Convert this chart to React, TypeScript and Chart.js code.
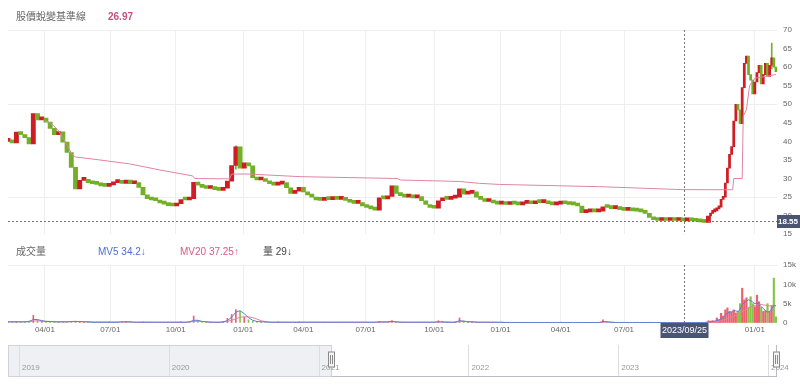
import React, { useEffect, useRef } from "react";
import { Chart, registerables } from "chart.js";

Chart.register(...registerables);

const FONT = "'Liberation Sans', Arial, 'Noto Sans CJK TC', sans-serif";

// ---------------- data ----------------
// price: close sampled every 4 trading days from day 0, then every 2 trading days from day 666
const stepA = 4;
const startB = 666;
const stepB = 2;
const lastDay = 729;

const closeA = [
  40.0, 39.6, 42.5, 41.8, 41.0, 39.3, 47.5, 45.8, 46.3, 45.2,
  43.5, 41.8, 42.6, 39.8, 37.0, 33.0, 27.2, 29.5, 29.8, 28.9,
  28.6, 28.4, 28.0, 27.9, 28.3, 28.9, 29.2, 28.7, 29.6, 28.6,
  28.9, 27.6, 25.6, 24.6, 24.2, 24.0, 23.4, 23.1, 22.7, 22.6,
  23.2, 24.3, 24.2, 24.6, 29.0, 28.2, 27.6, 27.3, 27.5, 27.0,
  26.8, 27.4, 29.3, 33.5, 38.5, 32.8, 34.2, 33.4, 30.2, 29.6,
  29.8, 29.2, 28.6, 28.2, 28.5, 28.9, 27.5, 26.0, 26.6, 27.6,
  26.4, 25.6, 25.0, 24.2, 24.1, 24.5, 24.3, 24.7, 24.4, 24.6,
  24.1, 23.6, 23.3, 23.5, 22.6, 22.2, 21.8, 21.5, 24.8, 24.5,
  25.2, 28.0, 26.0, 25.4, 25.0, 25.3, 24.8, 25.1, 24.0, 23.0,
  22.2, 22.0, 24.0, 24.6, 24.4, 24.7, 25.0, 27.2, 25.8, 26.0,
  26.4, 25.0, 24.4, 23.8, 24.2, 23.4, 23.1, 23.2, 23.0, 23.4,
  23.1, 22.9, 23.3, 23.4, 23.2, 23.7, 23.5, 23.6, 23.2, 22.9,
  23.1, 23.8, 23.2, 23.0, 22.9, 22.6, 20.8, 21.0, 21.1, 21.0,
  21.2, 22.4, 22.2, 21.9, 22.0, 21.6, 21.4, 21.5, 21.3, 21.2,
  21.0, 20.6, 19.5, 18.9, 18.7, 18.8, 18.7, 18.8, 18.7, 18.7,
  18.6, 18.7, 18.6, 18.5, 18.3, 18.2, 19.9,
];

const closeB = [
  20.6, 21.0, 21.3, 21.8, 22.3, 24.4, 25.0, 28.8, 32.8, 36.5,
  38.6, 45.5, 50.0, 48.5, 44.8, 54.5, 61.0, 63.0, 58.0, 56.5,
  52.8, 56.0, 58.5, 60.5, 55.5, 58.0, 61.0, 57.5, 60.5, 62.5,
  60.0, 58.8,
];

const wickIdx = [216, 724];
const wickLow = [32.5, 59.5];
const wickHigh = [38.8, 66.5];

// 股價蛻變基準線
const baseIdx = [35, 40, 47, 52, 57, 61, 64, 87, 116, 144, 175, 177, 210, 212, 229, 277, 369, 372, 428, 447, 466, 561, 640, 687, 688, 696, 697, 700, 703, 708, 718, 728];
const baseVal = [45.5, 45.0, 43.2, 41.0, 38.5, 36.3, 35.8, 35.0, 33.9, 32.3, 30.7, 30.0, 29.9, 31.2, 31.2, 30.5, 30.0, 29.6, 29.2, 28.7, 28.4, 27.8, 27.0, 26.97, 30.0, 30.0, 46.8, 48.5, 55.0, 57.0, 57.5, 58.0];

// volume (thousands), same sampling as price
const volA = [
  0.3, 0.3, 0.4, 0.3, 0.3, 0.5, 2.0, 0.8, 0.5, 0.4,
  0.4, 0.3, 0.3, 0.4, 0.3, 0.4, 0.5, 0.4, 0.3, 0.3,
  0.2, 0.2, 0.2, 0.2, 0.3, 0.2, 0.2, 0.3, 0.4, 0.3,
  0.2, 0.2, 0.3, 0.2, 0.2, 0.2, 0.2, 0.2, 0.2, 0.2,
  0.2, 0.3, 0.2, 0.3, 1.8, 0.6, 0.3, 0.3, 0.2, 0.2,
  0.2, 0.3, 1.2, 2.2, 3.5, 3.0, 1.5, 0.8, 0.5, 0.4,
  0.3, 0.3, 0.2, 0.2, 0.3, 0.2, 0.2, 0.2, 0.2, 0.3,
  0.2, 0.2, 0.2, 0.2, 0.2, 0.2, 0.2, 0.2, 0.2, 0.2,
  0.2, 0.2, 0.2, 0.2, 0.2, 0.2, 0.2, 0.2, 0.4, 0.3,
  0.3, 0.6, 0.3, 0.2, 0.2, 0.2, 0.2, 0.2, 0.2, 0.2,
  0.2, 0.2, 0.6, 0.3, 0.2, 0.2, 0.3, 1.3, 0.5, 0.3,
  0.3, 0.2, 0.2, 0.2, 0.2, 0.2, 0.2, 0.2, 0.1, 0.1,
  0.1, 0.1, 0.1, 0.1, 0.1, 0.1, 0.1, 0.1, 0.1, 0.1,
  0.1, 0.2, 0.1, 0.1, 0.1, 0.1, 0.2, 0.1, 0.1, 0.1,
  0.1, 0.8, 0.3, 0.2, 0.1, 0.1, 0.1, 0.1, 0.1, 0.1,
  0.1, 0.1, 0.2, 0.1, 0.1, 0.1, 0.1, 0.1, 0.1, 0.1,
  0.1, 0.1, 0.1, 0.1, 0.1, 0.1, 0.6,
];
const mv5A = [
  0.3, 0.3, 0.3, 0.3, 0.3, 0.4, 0.9, 0.9, 0.6, 0.4,
  0.4, 0.3, 0.3, 0.3, 0.3, 0.4, 0.4, 0.4, 0.3, 0.3,
  0.2, 0.2, 0.2, 0.2, 0.2, 0.2, 0.2, 0.3, 0.3, 0.3,
  0.2, 0.2, 0.2, 0.2, 0.2, 0.2, 0.2, 0.2, 0.2, 0.2,
  0.2, 0.2, 0.2, 0.3, 0.7, 0.7, 0.4, 0.3, 0.2, 0.2,
  0.2, 0.3, 0.6, 1.5, 2.8, 3.2, 2.4, 1.4, 0.7, 0.4,
  0.3, 0.3, 0.2, 0.2, 0.2, 0.2, 0.2, 0.2, 0.2, 0.2,
  0.2, 0.2, 0.2, 0.2, 0.2, 0.2, 0.2, 0.2, 0.2, 0.2,
  0.2, 0.2, 0.2, 0.2, 0.2, 0.2, 0.2, 0.2, 0.3, 0.3,
  0.3, 0.4, 0.3, 0.2, 0.2, 0.2, 0.2, 0.2, 0.2, 0.2,
  0.2, 0.2, 0.3, 0.3, 0.2, 0.2, 0.2, 0.6, 0.5, 0.3,
  0.3, 0.2, 0.2, 0.2, 0.2, 0.2, 0.2, 0.2, 0.1, 0.1,
  0.1, 0.1, 0.1, 0.1, 0.1, 0.1, 0.1, 0.1, 0.1, 0.1,
  0.1, 0.1, 0.1, 0.1, 0.1, 0.1, 0.1, 0.1, 0.1, 0.1,
  0.1, 0.4, 0.3, 0.2, 0.1, 0.1, 0.1, 0.1, 0.1, 0.1,
  0.1, 0.1, 0.1, 0.1, 0.1, 0.1, 0.1, 0.1, 0.1, 0.1,
  0.1, 0.1, 0.1, 0.1, 0.1, 0.1, 0.3,
];
const mv20A = [
  0.3, 0.3, 0.3, 0.3, 0.3, 0.35, 0.5, 0.55, 0.5, 0.45,
  0.4, 0.35, 0.3, 0.3, 0.3, 0.35, 0.35, 0.35, 0.3, 0.3,
  0.25, 0.25, 0.25, 0.25, 0.25, 0.25, 0.25, 0.25, 0.25, 0.25,
  0.2, 0.2, 0.2, 0.2, 0.2, 0.2, 0.2, 0.2, 0.2, 0.2,
  0.2, 0.2, 0.2, 0.25, 0.4, 0.45, 0.4, 0.3, 0.25, 0.2,
  0.2, 0.25, 0.4, 0.7, 1.1, 1.5, 1.6, 1.6, 1.4, 1.0,
  0.6, 0.35, 0.25, 0.2, 0.2, 0.2, 0.2, 0.2, 0.2, 0.2,
  0.2, 0.2, 0.2, 0.2, 0.2, 0.2, 0.2, 0.2, 0.2, 0.2,
  0.2, 0.2, 0.2, 0.2, 0.2, 0.2, 0.2, 0.2, 0.2, 0.2,
  0.25, 0.3, 0.3, 0.25, 0.2, 0.2, 0.2, 0.2, 0.2, 0.2,
  0.2, 0.2, 0.25, 0.25, 0.25, 0.2, 0.2, 0.35, 0.4, 0.35,
  0.3, 0.25, 0.2, 0.2, 0.2, 0.2, 0.15, 0.15, 0.15, 0.15,
  0.1, 0.1, 0.1, 0.1, 0.1, 0.1, 0.1, 0.1, 0.1, 0.1,
  0.1, 0.1, 0.1, 0.1, 0.1, 0.1, 0.1, 0.1, 0.1, 0.1,
  0.1, 0.2, 0.25, 0.2, 0.15, 0.1, 0.1, 0.1, 0.1, 0.1,
  0.1, 0.1, 0.1, 0.1, 0.1, 0.1, 0.1, 0.1, 0.1, 0.1,
  0.1, 0.1, 0.1, 0.1, 0.1, 0.1, 0.15,
];
const volB = [
  0.5, 0.6, 0.4, 1.3, 0.8, 2.5, 1.8, 3.4, 3.9, 3.0,
  2.8, 3.4, 2.6, 3.0, 5.0, 9.0, 6.0, 6.5, 4.0, 6.8,
  5.0, 4.2, 7.2, 5.5, 4.0, 3.0, 3.2, 5.0, 3.0, 4.5,
  11.6, 1.6,
];
const mv5B = [
  0.3, 0.4, 0.5, 0.7, 0.8, 1.2, 1.4, 2.0, 2.6, 2.8,
  2.9, 3.2, 3.1, 3.0, 3.5, 4.8, 5.2, 5.6, 6.0, 5.8,
  5.4, 5.0, 5.2, 4.8, 4.2, 3.8, 3.2, 2.8, 3.0, 3.6,
  4.6, 4.4,
];
const mv20B = [
  0.2, 0.25, 0.3, 0.35, 0.4, 0.6, 0.7, 0.9, 1.1, 1.3,
  1.5, 1.8, 2.0, 2.2, 2.5, 3.0, 3.3, 3.6, 3.9, 4.2,
  4.4, 4.5, 4.7, 4.8, 4.8, 4.7, 4.6, 4.5, 4.4, 4.5,
  4.6, 4.5,
];

// axis ticks (trading-day index of each quarter start)
const tickIdx = [35, 97, 159, 223, 280, 339, 404, 467, 524, 584, 708];
const tickLabels = ["04/01", "07/01", "10/01", "01/01", "04/01", "07/01", "10/01", "01/01", "04/01", "07/01", "01/01"];

const crossIdx = 641;
const crossDate = "2023/09/25";
const crossPrice = 18.55;
const baseNow = "26.97";
const mv5Now = "34.2";
const mv20Now = "37.25";
const volNow = "29";

const navYears = [2019, 2020, 2021, 2022, 2023, 2024];
const navMin = 2018.927;
const navMax = 2024.06;
const navFrom = 2021.083;
const navTo = 2024.06;

// ---------------- styles ----------------
const RED = "#d21c25";
const GREEN = "#72b02a";
const VRED = "#f0606c";
const VGREEN = "#86c44a";
const PINK = "#e083a4";
const BLUE = "#5b7fd8";
const GRID = "#eeeeee";
const AXIS = "#666";

const idxA = closeA.map((_, i) => i * stepA);
const idxB = closeB.map((_, j) => startB + j * stepB);
const openA = closeA.map((c, i) => (i === 0 ? c : closeA[i - 1]));
const openB = closeB.map((c, j) => (j === 0 ? closeA[closeA.length - 1] : closeB[j - 1]));

const candleColor = (c: any) => {
  const r = c.raw;
  if (!r || !Array.isArray(r.y)) return GREEN;
  return r.y[1] >= r.y[0] ? RED : GREEN;
};
const volColor = (c: any) => (c.raw && c.raw.up ? VRED : VGREEN);

const xScaleBase = (showLabels: boolean, height: number): any => ({
  type: "linear",
  min: 0,
  max: lastDay,
  offset: false,
  afterBuildTicks: (s: any) => {
    s.ticks = tickIdx.map((v) => ({ value: v }));
  },
  ticks: {
    display: showLabels,
    color: AXIS,
    font: { size: 8 },
    padding: 2,
    autoSkip: false,
    maxRotation: 0,
    callback: (_v: any, i: number) => tickLabels[i],
  },
  grid: { color: GRID, drawTicks: false, offset: false },
  border: { display: false },
  afterFit: (s: any) => {
    s.height = height;
  },
});

const priceCross = {
  id: "priceCross",
  afterDraw(chart: any) {
    const { ctx, chartArea: a, scales } = chart;
    const px = Math.round(scales.x.getPixelForValue(crossIdx)) + 0.5;
    const py = Math.round(scales.y.getPixelForValue(crossPrice)) + 0.5;
    ctx.save();
    ctx.strokeStyle = "#777";
    ctx.lineWidth = 1;
    ctx.setLineDash([2, 2]);
    ctx.beginPath();
    ctx.moveTo(px, a.top);
    ctx.lineTo(px, a.bottom);
    ctx.moveTo(a.left, py);
    ctx.lineTo(a.right, py);
    ctx.stroke();
    ctx.setLineDash([]);
    ctx.fillStyle = "#4a5473";
    ctx.fillRect(a.right, py - 6.5, chart.width - a.right, 13);
    ctx.fillStyle = "#fff";
    ctx.font = `bold 8px ${FONT}`;
    ctx.textBaseline = "middle";
    ctx.textAlign = "left";
    ctx.fillText(crossPrice.toFixed(2), a.right + 1, py + 0.5);
    ctx.restore();
  },
};

const volCross = {
  id: "volCross",
  afterDraw(chart: any) {
    const { ctx, chartArea: a, scales } = chart;
    const px = Math.round(scales.x.getPixelForValue(crossIdx)) + 0.5;
    ctx.save();
    ctx.strokeStyle = "#777";
    ctx.lineWidth = 1;
    ctx.setLineDash([2, 2]);
    ctx.beginPath();
    ctx.moveTo(px, a.top);
    ctx.lineTo(px, a.bottom);
    ctx.stroke();
    ctx.setLineDash([]);
    ctx.fillStyle = "#4a5473";
    ctx.fillRect(px - 24, a.bottom, 48, 15);
    ctx.fillStyle = "#fff";
    ctx.font = `9px ${FONT}`;
    ctx.textBaseline = "middle";
    ctx.textAlign = "center";
    ctx.fillText(crossDate, px, a.bottom + 7.5);
    ctx.restore();
  },
};

const navPlugin = {
  id: "navPlugin",
  afterDraw(chart: any) {
    const { ctx, chartArea: a, scales } = chart;
    const x = scales.x;
    const s = Math.round(x.getPixelForValue(navFrom)) + 0.5;
    const e = Math.round(x.getPixelForValue(navTo)) - 0.5;
    ctx.save();
    ctx.fillStyle = "#eef0f3";
    ctx.fillRect(a.left, a.top, s - a.left, a.bottom - a.top);
    ctx.lineWidth = 1;
    ctx.strokeStyle = "#dddddd";
    ctx.beginPath();
    navYears.forEach((yr) => {
      const px = Math.round(x.getPixelForValue(yr)) + 0.5;
      ctx.moveTo(px, a.top);
      ctx.lineTo(px, a.bottom);
    });
    ctx.stroke();
    ctx.strokeStyle = "#cfd3d8";
    ctx.strokeRect(a.left + 0.5, a.top + 0.5, s - a.left - 0.5, a.bottom - a.top - 1);
    ctx.strokeStyle = "#b9bdc3";
    ctx.beginPath();
    ctx.moveTo(s, a.bottom - 0.5);
    ctx.lineTo(e, a.bottom - 0.5);
    ctx.moveTo(e, a.top);
    ctx.lineTo(e, a.bottom);
    ctx.stroke();
    ctx.fillStyle = "#999";
    ctx.font = `8px ${FONT}`;
    ctx.textBaseline = "middle";
    ctx.textAlign = "left";
    navYears.forEach((yr) => {
      const px = x.getPixelForValue(yr);
      ctx.fillText(String(yr), px + 3, a.top + 23);
    });
    [s, e].forEach((hx) => {
      ctx.fillStyle = "#f4f4f4";
      ctx.strokeStyle = "#8a8a8a";
      ctx.fillRect(hx - 3, a.top + 7, 6, 15);
      ctx.strokeRect(hx - 3, a.top + 7, 6, 15);
      ctx.beginPath();
      ctx.moveTo(hx - 1, a.top + 10);
      ctx.lineTo(hx - 1, a.top + 19);
      ctx.moveTo(hx + 1, a.top + 10);
      ctx.lineTo(hx + 1, a.top + 19);
      ctx.stroke();
    });
    ctx.restore();
  },
};

function priceConfig(): any {
  const candlesA = closeA.map((c, i) => ({ x: idxA[i], y: [openA[i], c] }));
  const candlesB = closeB.map((c, j) => ({ x: idxB[j], y: [openB[j], c] }));
  const wicks = wickIdx.map((x, i) => ({ x, y: [wickLow[i], wickHigh[i]] }));
  const base = baseIdx.map((x, i) => ({ x, y: baseVal[i] }));
  return {
    type: "bar",
    data: {
      datasets: [
        { type: "line", data: base, borderColor: PINK, borderWidth: 1, pointRadius: 0, tension: 0, order: 0 },
        { type: "bar", data: wicks, backgroundColor: GREEN, barThickness: 1, grouped: false, order: 3 },
        { type: "bar", data: candlesA, backgroundColor: candleColor, barThickness: 4.2, minBarLength: 3, grouped: false, order: 2 },
        { type: "bar", data: candlesB, backgroundColor: candleColor, barThickness: 2.1, minBarLength: 3, grouped: false, order: 1 },
      ],
    },
    options: {
      responsive: false,
      animation: false,
      devicePixelRatio: 1,
      events: [],
      layout: { padding: { left: 8, top: 30, right: 0, bottom: 9 } },
      plugins: { legend: { display: false }, tooltip: { enabled: false } },
      scales: {
        x: xScaleBase(false, 0),
        y: {
          type: "linear",
          position: "right",
          min: 15,
          max: 70,
          ticks: { stepSize: 5, color: AXIS, padding: 6, font: { size: 8 } },
          grid: {
            color: (c: any) => ([25, 50, 70].includes(c.tick.value) ? GRID : "transparent"),
            drawTicks: false,
          },
          border: { display: false },
          afterFit: (s: any) => {
            s.width = 23;
          },
        },
      },
    },
    plugins: [priceCross],
  };
}

function volumeConfig(): any {
  const barsA = volA.map((v, i) => ({ x: idxA[i], y: v, up: closeA[i] >= openA[i] }));
  const barsB = volB.map((v, j) => ({ x: idxB[j], y: v, up: closeB[j] >= openB[j] }));
  const mv5 = [...idxA.map((x, i) => ({ x, y: mv5A[i] })), ...idxB.map((x, j) => ({ x, y: mv5B[j] }))];
  const mv20 = [...idxA.map((x, i) => ({ x, y: mv20A[i] })), ...idxB.map((x, j) => ({ x, y: mv20B[j] }))];
  return {
    type: "bar",
    data: {
      datasets: [
        { type: "line", data: mv5, borderColor: BLUE, borderWidth: 1, pointRadius: 0, tension: 0, order: 0 },
        { type: "line", data: mv20, borderColor: PINK, borderWidth: 1, pointRadius: 0, tension: 0, order: 1 },
        { type: "bar", data: barsA, backgroundColor: volColor, barThickness: 1, grouped: false, order: 3 },
        { type: "bar", data: barsB, backgroundColor: volColor, barThickness: 1.5, grouped: false, order: 2 },
      ],
    },
    options: {
      responsive: false,
      animation: false,
      devicePixelRatio: 1,
      events: [],
      layout: { padding: { left: 8, top: 20, right: 0, bottom: 0 } },
      plugins: { legend: { display: false }, tooltip: { enabled: false } },
      scales: {
        x: xScaleBase(true, 19),
        y: {
          type: "linear",
          position: "right",
          min: 0,
          max: 15,
          ticks: {
            stepSize: 5,
            color: AXIS,
            padding: 6,
            font: { size: 8 },
            callback: (v: any) => (v === 0 ? "0" : v + "k"),
          },
          grid: { color: (c: any) => (c.tick.value === 15 ? GRID : "transparent"), drawTicks: false },
          border: { display: false },
          afterFit: (s: any) => {
            s.width = 23;
          },
        },
      },
    },
    plugins: [volCross],
  };
}

function navConfig(): any {
  return {
    type: "line",
    data: { datasets: [{ data: [], pointRadius: 0 }] },
    options: {
      responsive: false,
      animation: false,
      devicePixelRatio: 1,
      events: [],
      layout: { padding: { left: 8, right: 23, top: 3, bottom: 9 } },
      plugins: { legend: { display: false }, tooltip: { enabled: false } },
      scales: {
        x: { type: "linear", min: navMin, max: navMax, display: false },
        y: { type: "linear", min: 0, max: 1, display: false },
      },
    },
    plugins: [navPlugin],
  };
}

export default function App() {
  const priceRef = useRef<HTMLCanvasElement>(null);
  const volRef = useRef<HTMLCanvasElement>(null);
  const navRef = useRef<HTMLCanvasElement>(null);

  useEffect(() => {
    document.body.style.margin = "0";
    Chart.defaults.font.family = FONT;
    Chart.defaults.font.size = 8;
    const charts: Chart[] = [];
    if (priceRef.current) charts.push(new Chart(priceRef.current, priceConfig()));
    if (volRef.current) charts.push(new Chart(volRef.current, volumeConfig()));
    if (navRef.current) charts.push(new Chart(navRef.current, navConfig()));
    return () => charts.forEach((c) => c.destroy());
  }, []);

  const txt = (left: number, top: number, color: string, bold = false): React.CSSProperties => ({
    position: "absolute",
    left,
    top,
    fontSize: 10,
    lineHeight: "12px",
    color,
    fontWeight: bold ? 700 : 400,
    whiteSpace: "nowrap",
  });

  return (
    <div style={{ position: "fixed", left: 0, top: 0, width: 800, height: 386, background: "#fff", overflow: "hidden", fontFamily: FONT }}>
      <canvas ref={priceRef} width={800} height={245} style={{ position: "absolute", left: 0, top: 0 }} />
      <canvas ref={volRef} width={800} height={97} style={{ position: "absolute", left: 0, top: 245 }} />
      <canvas ref={navRef} width={800} height={44} style={{ position: "absolute", left: 0, top: 342 }} />
      <span style={txt(16, 11, "#666")}>股價蛻變基準線</span>
      <span style={txt(108, 11, "#c4507e", true)}>{baseNow}</span>
      <span style={txt(16, 246, "#666")}>成交量</span>
      <span style={txt(98, 246, "#4c6fd1")}>MV5 {mv5Now}↓</span>
      <span style={txt(180, 246, "#d65a84")}>MV20 {mv20Now}↑</span>
      <span style={txt(263, 246, "#444")}>量 {volNow}↓</span>
    </div>
  );
}
